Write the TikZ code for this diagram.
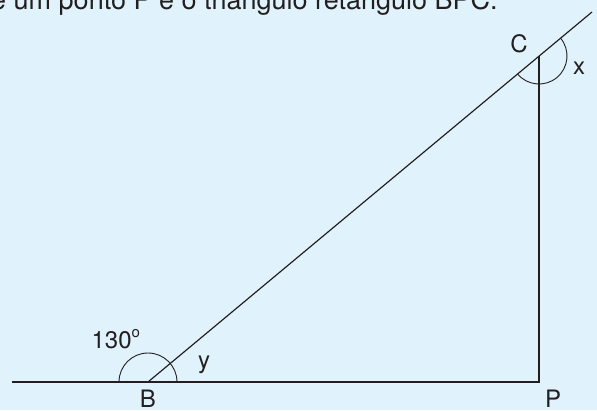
\documentclass[tikz,border=0pt]{standalone}
\usepackage{fontspec}
\setmainfont{TeX Gyre Heros}
\definecolor{PageBlue}{RGB}{224,242,251}
\definecolor{InkGray}{RGB}{35,31,32}
\usetikzlibrary{calc}
\begin{document}
\begin{tikzpicture}[x=1pt,y=1pt,line width=1.2pt,
  lbl/.style={font=\fontsize{24}{28}\selectfont,text=InkGray,inner sep=0pt,anchor=base},
  side/.style={draw=InkGray,line width=1.2pt},
  angarc/.style={draw=InkGray,line width=0.9pt}]
  \useasboundingbox[fill=PageBlue] (0,0) rectangle (597,410);
  % statement line, cut by the page edge
  \begin{scope}
    \clip (0,0) rectangle (597,410);
    \node[anchor=base west,inner sep=0pt,text=InkGray,
          font=\fontsize{27}{30}\selectfont] (stmt) at (-9.4,400)
      {e um ponto P e o triângulo retângulo BPC.};
  \end{scope}
  % vertices
  \coordinate (B) at (148,28);
  \coordinate (P) at (539,28);
  \coordinate (C) at (539,354);
  \coordinate (left) at (12,28);
  \coordinate (top) at (592,398);
  % sides
  \draw[side] (left) -- (P) -- (C);
  \draw[side] (B) -- (top);
  % angle marks
  \draw[angarc] ($(B)+(29,0)$) arc[start angle=0,end angle=180,radius=29pt];
  \draw[angarc] ($(C)+(39.8:28)$) arc[start angle=39.8,end angle=-140.2,radius=28pt];
  % labels
  \node[lbl] (labB) at (148,3) {B};
  \node[lbl] (labP) at (553,3) {P};
  \node[lbl] (labC) at (519,357) {C};
  \node[lbl] (labx) at (579,335) {x};
  \node[lbl] (laby) at (204,42) {y};
  \node[lbl,anchor=base west] (lab130) at (91,62)
    {130\raisebox{0.42em}{\fontsize{15}{15}\selectfont o}};
\end{tikzpicture}
\end{document}
